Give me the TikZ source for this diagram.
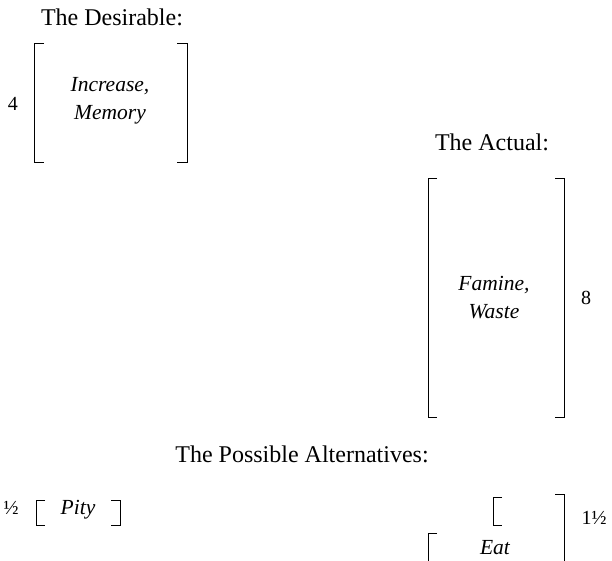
\documentclass[tikz,border=0pt]{standalone}
\usepackage{fontspec}
\setmainfont{Liberation Serif}
\begin{document}
\begin{tikzpicture}[x=1pt,y=-1pt,
  brk/.style={line width=1pt},
  heading/.style={font=\fontsize{24}{28}\selectfont, inner sep=0pt},
  term/.style={font=\fontsize{21.5}{28}\selectfont\itshape, align=center, inner sep=0pt},
  num/.style={font=\fontsize{20}{24}\selectfont, inner sep=0pt}]
\useasboundingbox (0,0) rectangle (612,561);

% The desirable
\node[heading] (desT) at (112,17) {The Desirable:};
\draw[brk] (44,44) -- (34,44) -- (34,163) -- (44,163);
\draw[brk] (177,44) -- (187,44) -- (187,163) -- (177,163);
\node[term] (desX) at (110,101) {Increase,\\Memory};
\node[num] (desN) at (13,104) {4};

% The actual
\node[heading] (actT) at (492,142) {The Actual:};
\draw[brk] (437,179) -- (428,179) -- (428,417) -- (437,417);
\draw[brk] (555,179) -- (564,179) -- (564,417) -- (555,417);
\node[term] (actX) at (494,298) {Famine,\\Waste};
\node[num] (actN) at (586,298) {8};

% The possible alternatives
\node[heading] (posT) at (302,454) {The Possible Alternatives:};

\node[num] (pityN) at (11,508) {½};
\draw[brk] (45,500) -- (36,500) -- (36,525) -- (45,525);
\draw[brk] (111,500) -- (120,500) -- (120,525) -- (111,525);
\node[term] (pityX) at (78,510) {Pity};

\draw[brk] (502,497) -- (493,497) -- (493,525) -- (502,525);
\draw[brk] (555,494) -- (564,494) -- (564,570);
\node[num] (eatN) at (594,518) {1½};
\draw[brk] (437,533) -- (428,533) -- (428,570);
\node[term] (eatX) at (495,548) {Eat};
\end{tikzpicture}
\end{document}
